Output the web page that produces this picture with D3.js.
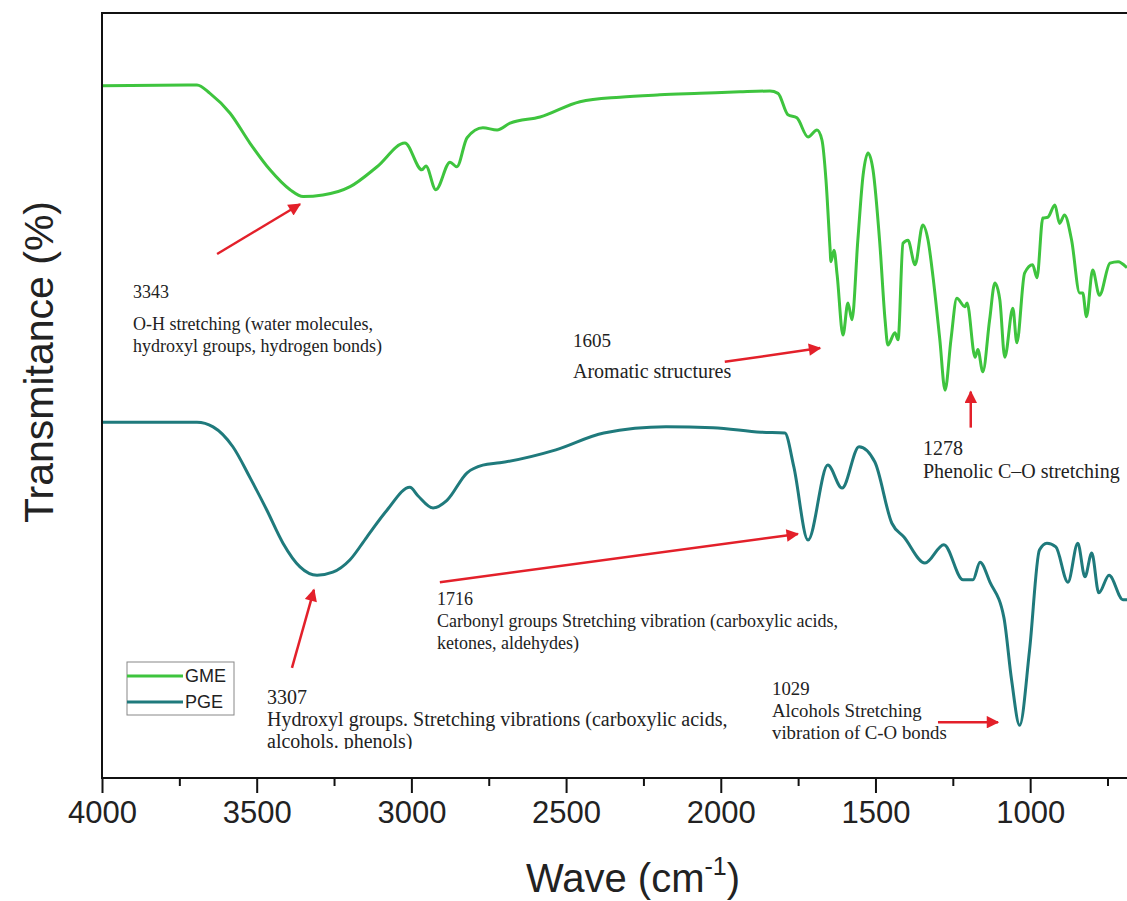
<!DOCTYPE html>
<html>
<head>
<meta charset="utf-8">
<script src="https://cdn.jsdelivr.net/npm/d3@7"></script>
<style>
  body { margin: 0; background: #fff; }
  svg { display: block; }
</style>
</head>
<body>
<div id="chart"></div>
<script>
// wavenumbers (cm-1) and transmittance
const gmeWave = [4000,3693,3651,3586,3522,3457,3392,3350,3286,3198,3111,3021,2966,2953,2921,2875,2853,2820,2769,2723,
  2681,2584,2455,2326,2197,2067,1938,1841,1815,1783,1754,1718,1689,1673,1660,1647,1644,1634,1624,1605,
  1589,1576,1557,1540,1524,1508,1486,1469,1460,1437,1427,1411,1395,1372,1347,1330,1314,1292,1275,1256,
  1237,1211,1204,1178,1169,1153,1131,1114,1098,1082,1056,1043,1018,992,978,959,943,920,905,889,
  866,840,830,818,798,776,742,716,687];
const gmeT = [90.5,90.6,89.5,86.9,83.0,79.5,76.9,76.0,76.2,77.3,79.9,83.0,79.5,80.0,76.9,80.5,79.9,83.7,85.0,84.7,
  85.6,86.4,88.4,89.0,89.3,89.5,89.7,89.8,89.5,86.7,86.3,83.8,84.7,83.4,78.2,69.4,67.5,69.0,65.8,57.9,
  62.1,59.9,70.3,78.8,81.7,79.5,69.9,59.9,56.6,58.2,57.3,69.9,70.3,67.1,72.3,70.3,65.5,57.3,50.7,57.3,
  62.7,61.6,62.1,55.0,56.0,53.1,59.9,64.7,62.5,55.0,61.4,56.9,66.0,67.1,65.4,73.2,73.3,74.9,72.5,73.6,
  70.3,63.4,63.4,60.3,66.4,63.1,67.3,67.5,66.7];

const pgeWave = [4000,3693,3641,3577,3522,3467,3415,3360,3305,3254,3199,3144,3079,3005,2979,2930,2885,2820,2769,2714,
  2533,2378,2177,2025,1870,1793,1764,1718,1654,1608,1553,1502,1447,1408,1340,1279,1217,1185,1162,1130,
  1085,1060,1034,1002,970,946,917,878,846,823,801,778,745,700,687];
const pgeT = [46.5,46.5,45.9,43.3,39.3,35.0,30.7,27.6,26.5,26.9,28.5,31.5,35.0,38.0,36.9,35.3,36.3,39.9,40.9,41.2,
  42.9,45.1,45.9,45.8,45.2,45.1,40.7,31.1,40.9,37.9,43.3,41.3,33.3,31.5,28.1,30.5,25.9,25.9,28.2,25.6,
  21.0,12.8,6.9,16.7,29.8,30.7,30.2,25.6,30.7,26.3,29.4,24.2,26.5,23.3,23.3];

const majorTicks = [4000, 3500, 3000, 2500, 2000, 1500, 1000];
const minorTicks = [3750, 3250, 2750, 2250, 1750, 1250, 750];
const seriesNames = ["GME", "PGE"];

const width = 1127, height = 901;
const margin = { top: 13, right: 0, bottom: 123, left: 102 };

const svg = d3.select("#chart").append("svg")
  .attr("width", width)
  .attr("height", height);

const x = d3.scaleLinear()
  .domain([4000, 687])
  .range([margin.left, width - margin.right]);

const y = d3.scaleLinear()
  .domain([0, 100])
  .range([height - margin.bottom, margin.top]);

const colors = { GME: "#3ec43e", PGE: "#1f7a7c" };

const series = [
  { name: "GME", pts: gmeWave.map((w, i) => [w, gmeT[i]]) },
  { name: "PGE", pts: pgeWave.map((w, i) => [w, pgeT[i]]) }
];

const line = d3.line()
  .x(d => x(d[0]))
  .y(d => y(d[1]))
  .curve(d3.curveMonotoneX);

svg.selectAll(".spec")
  .data(series)
  .enter()
  .append("path")
  .attr("class", "spec")
  .attr("d", d => line(d.pts))
  .attr("fill", "none")
  .attr("stroke", d => colors[d.name])
  .attr("stroke-width", 3)
  .attr("stroke-linejoin", "round");

// frame: left, top, bottom
const y0 = height - margin.bottom;
svg.append("path")
  .attr("d", `M${width},${margin.top}H${margin.left}V${y0}H${width}`)
  .attr("fill", "none")
  .attr("stroke", "#111")
  .attr("stroke-width", 2);

const xAxis = svg.append("g")
  .attr("transform", `translate(0,${y0})`)
  .call(d3.axisBottom(x).tickValues(majorTicks).tickSize(15).tickPadding(8).tickFormat(d3.format("d")));
xAxis.select(".domain").remove();
xAxis.selectAll(".tick line").attr("stroke", "#111").attr("stroke-width", 2);
xAxis.selectAll("text")
  .attr("font-family", "Liberation Sans, Arial, sans-serif")
  .attr("font-size", 31)
  .attr("fill", "#222");

const xMinor = svg.append("g")
  .attr("transform", `translate(0,${y0})`)
  .call(d3.axisBottom(x).tickValues(minorTicks).tickSize(8).tickFormat(""));
xMinor.select(".domain").remove();
xMinor.selectAll(".tick line").attr("stroke", "#111").attr("stroke-width", 2);

// axis titles
const xt = svg.append("text")
  .attr("x", 633)
  .attr("y", 892)
  .attr("text-anchor", "middle")
  .attr("font-family", "Liberation Sans, Arial, sans-serif")
  .attr("font-size", 40)
  .attr("fill", "#222");
xt.append("tspan").text("Wave (cm");
xt.append("tspan").attr("font-size", 25).attr("dy", -17).text("-1");
xt.append("tspan").attr("dy", 17).text(")");

svg.append("text")
  .attr("transform", `translate(53,${362}) rotate(-90)`)
  .attr("text-anchor", "middle")
  .attr("font-family", "Liberation Sans, Arial, sans-serif")
  .attr("font-size", 41)
  .attr("fill", "#222")
  .text("Transmitance (%)");

// legend
const lg = svg.append("g").attr("transform", "translate(127,662)");
lg.append("rect")
  .attr("width", 107).attr("height", 53)
  .attr("fill", "#fff")
  .attr("stroke", "#888").attr("stroke-width", 1);
seriesNames.forEach((n, i) => {
  lg.append("line")
    .attr("x1", 0).attr("x2", 56)
    .attr("y1", 14 + i * 26).attr("y2", 14 + i * 26)
    .attr("stroke", colors[n]).attr("stroke-width", 3);
  lg.append("text")
    .attr("x", 58).attr("y", 20 + i * 26)
    .attr("font-family", "Liberation Sans, Arial, sans-serif")
    .attr("font-size", 18)
    .attr("fill", "#222")
    .text(n);
});

// annotations
const defs = svg.append("defs");
defs.append("marker")
  .attr("id", "head")
  .attr("viewBox", "0 0 10 10")
  .attr("refX", 9).attr("refY", 5)
  .attr("markerWidth", 6).attr("markerHeight", 5)
  .attr("markerUnits", "strokeWidth")
  .attr("orient", "auto")
  .append("path")
  .attr("d", "M0,0L10,5L0,10Z")
  .attr("fill", "#e3202a");

const arrows = [
  { from: [3628, 68.5], to: [3360, 75.0] },
  { from: [1987, 54.4], to: [1679, 56.2] },
  { from: [1192, 45.8], to: [1192, 50.5] },
  { from: [3386, 14.4], to: [3315, 24.6] },
  { from: [2908, 25.6], to: [1751, 31.9] },
  { from: [1298, 7.3], to: [1104, 7.3] }
];
svg.selectAll(".arrow")
  .data(arrows)
  .enter()
  .append("line")
  .attr("class", "arrow")
  .attr("x1", d => x(d.from[0])).attr("y1", d => y(d.from[1]))
  .attr("x2", d => x(d.to[0])).attr("y2", d => y(d.to[1]))
  .attr("stroke", "#e3202a")
  .attr("stroke-width", 2.5)
  .attr("marker-end", "url(#head)");

const notes = [
  { x: 133, y: 298, size: 18, lines: ["3343"] },
  { x: 133, y: 330, size: 18, lines: ["O-H stretching (water molecules,", "hydroxyl groups, hydrogen bonds)"] },
  { x: 573, y: 347, size: 19, lines: ["1605"] },
  { x: 573, y: 378, size: 20, lines: ["Aromatic structures"] },
  { x: 923, y: 455, size: 20, lines: ["1278"] },
  { x: 923, y: 478, size: 20, lines: ["Phenolic C\u2013O stretching"] },
  { x: 437, y: 605, size: 18, lines: ["1716", "Carbonyl groups Stretching vibration (carboxylic acids,", "ketones, aldehydes)"] },
  { x: 267, y: 704, size: 20, lines: ["3307", "Hydroxyl groups. Stretching vibrations (carboxylic acids,", "alcohols. phenols)"] },
  { x: 772, y: 695, size: 18.8, lines: ["1029", "Alcohols Stretching", "vibration of C-O bonds"] }
];

defs.append("clipPath").attr("id", "noteclip")
  .append("rect").attr("x", 0).attr("y", 0).attr("width", width).attr("height", 749);

const ng = svg.append("g").attr("clip-path", "url(#noteclip)");
notes.forEach(n => {
  const t = ng.append("text")
    .attr("font-family", "Liberation Serif, Times New Roman, serif")
    .attr("font-size", n.size)
    .attr("fill", "#222");
  n.lines.forEach((s, i) => {
    t.append("tspan")
      .attr("x", n.x)
      .attr("y", n.y + i * 22)
      .text(s);
  });
});
</script>
</body>
</html>
